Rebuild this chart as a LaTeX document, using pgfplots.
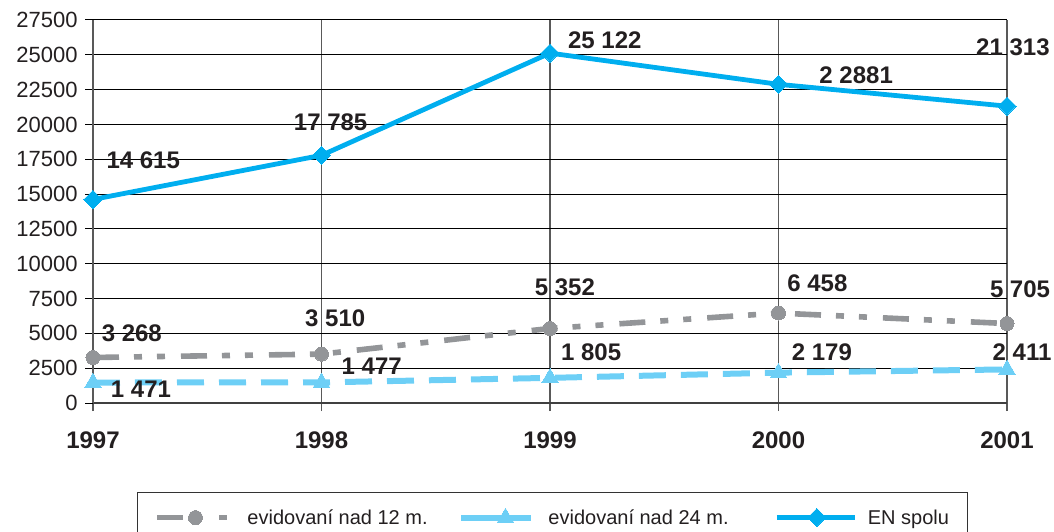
\documentclass[border=0pt]{standalone}
\usepackage{fontspec}
\setmainfont{Liberation Sans}
\usepackage{pgfplots}
\pgfplotsset{compat=1.18}
\definecolor{cgray}{HTML}{939598}
\definecolor{clblue}{HTML}{6DCFF6}
\definecolor{cblue}{HTML}{00AEEF}
\definecolor{ctext}{HTML}{231F20}
\tikzset{lbl/.style={font=\bfseries\fontsize{18}{20}\selectfont, text=ctext}}
\begin{document}
\begin{tikzpicture}
\useasboundingbox (-69.75pt,-96.75pt) rectangle (720.75pt,302.25pt);
\begin{axis}[
 at={(0pt,0pt)}, anchor=south west,
 scale only axis, width=685.5pt, height=287.25pt,
 xmin=1997, xmax=2001, ymin=0, ymax=27500,
 xtick={1997,1998,1999,2000,2001},
 ytick={0,2500,...,27500},
 scaled y ticks=false,
 axis x line*=bottom, axis y line*=left,
 x axis line style={black!75, line width=1pt},
 y axis line style={black!65, line width=0.9pt},
 grid=major,
 x grid style={black!65, line width=0.9pt},
 y grid style={black, line width=0.75pt},
 tick align=outside,
 major tick length=6pt,
 x tick style={black!65, line width=0.9pt},
 y tick style={black, line width=0.75pt},
 /pgf/number format/.cd, 1000 sep={}, assume math mode=true, /pgfplots/.cd,
 yticklabel style={font=\fontsize{16.5}{18}\selectfont, text=ctext, xshift=-2pt},
 xticklabel style={font=\bfseries\fontsize{18}{20}\selectfont, text=ctext, yshift=-12pt},
 clip=false,
 legend columns=3,
 legend cell align=left,
 legend style={at={(0.0481,-0.2324)}, anchor=north west, draw=black!80, line width=0.8pt,
   inner sep=0pt, column sep=0pt, fill=white,
   nodes={inner sep=0pt, anchor=west, text height=10.5pt, text depth=0pt,
     font=\fontsize{15}{17}\selectfont, text=ctext}},
]
\addplot[color=cgray, line width=4.2pt,
  dash pattern=on 19.5pt off 11.25pt on 6pt off 11.25pt on 6pt off 12pt,
  mark=*, mark size=5.25pt, mark options={solid, fill=cgray, draw=cgray, line width=0pt},
  legend image code/.code={
    \path[draw=none,fill=none] (-15pt,-18.75pt) rectangle (67.5pt,18.75pt);
    \draw[dash pattern=on 19.5pt off 27pt on 6pt off 20pt] (0pt,0pt) -- (52.5pt,0pt);
    \draw plot[only marks] coordinates {(28.5pt,0pt)};
  }]
coordinates {(1997,3268) (1998,3510) (1999,5352) (2000,6458) (2001,5705)};
\addlegendentry{\makebox[158.25pt][l]{evidovaní nad 12 m.}}
\addplot[color=clblue, line width=4.5pt,
  dash pattern=on 20.25pt off 11.25pt,
  mark=triangle*, mark size=7pt, mark options={solid, fill=clblue, draw=clblue, line width=0pt},
  legend image code/.code={
    \path[draw=none,fill=none] (0pt,-5pt) rectangle (65.25pt,5pt);
    \draw[solid] (0pt,0pt) -- (52.5pt,0pt);
    \draw plot[only marks] coordinates {(33pt,0pt)};
  }]
coordinates {(1997,1471) (1998,1477) (1999,1805) (2000,2179) (2001,2411)};
\addlegendentry{\makebox[169.5pt][l]{evidovaní nad 24 m.}}
\addplot[color=cblue, line width=3.6pt,
  mark=square*, mark size=4.8pt, mark options={solid, rotate=45, fill=cblue, draw=cblue, line width=0pt},
  legend image code/.code={
    \path[draw=none,fill=none] (0pt,-5pt) rectangle (68.25pt,5pt);
    \draw (0pt,0pt) -- (58.5pt,0pt);
    \draw plot[only marks] coordinates {(30pt,0pt)};
  }]
coordinates {(1997,14615) (1998,17785) (1999,25122) (2000,22881) (2001,21313)};
\addlegendentry{\makebox[75pt][l]{EN spolu}}
\node[lbl] at (axis cs:1997.22,17447) {14 615};
\node[lbl] at (axis cs:1998.04,20176) {17 785};
\node[lbl] at (axis cs:1999.24,26063) {25 122};
\node[lbl] at (axis cs:2000.34,23550) {2 2881};
\node[lbl] at (axis cs:2001.026,25561) {21 313};
\node[lbl] at (axis cs:1997.17,5026) {3 268};
\node[lbl] at (axis cs:1998.06,6103) {3 510};
\node[lbl] at (axis cs:1999.065,8329) {5 352};
\node[lbl] at (axis cs:2000.17,8616) {6 458};
\node[lbl] at (axis cs:2001.057,8185) {5 705};
\node[lbl] at (axis cs:1997.21,1005) {1 471};
\node[lbl] at (axis cs:1998.22,2657) {1 477};
\node[lbl] at (axis cs:1999.18,3662) {1 805};
\node[lbl] at (axis cs:2000.19,3662) {2 179};
\node[lbl] at (axis cs:2001.066,3662) {2 411};
\end{axis}
\end{tikzpicture}
\end{document}
